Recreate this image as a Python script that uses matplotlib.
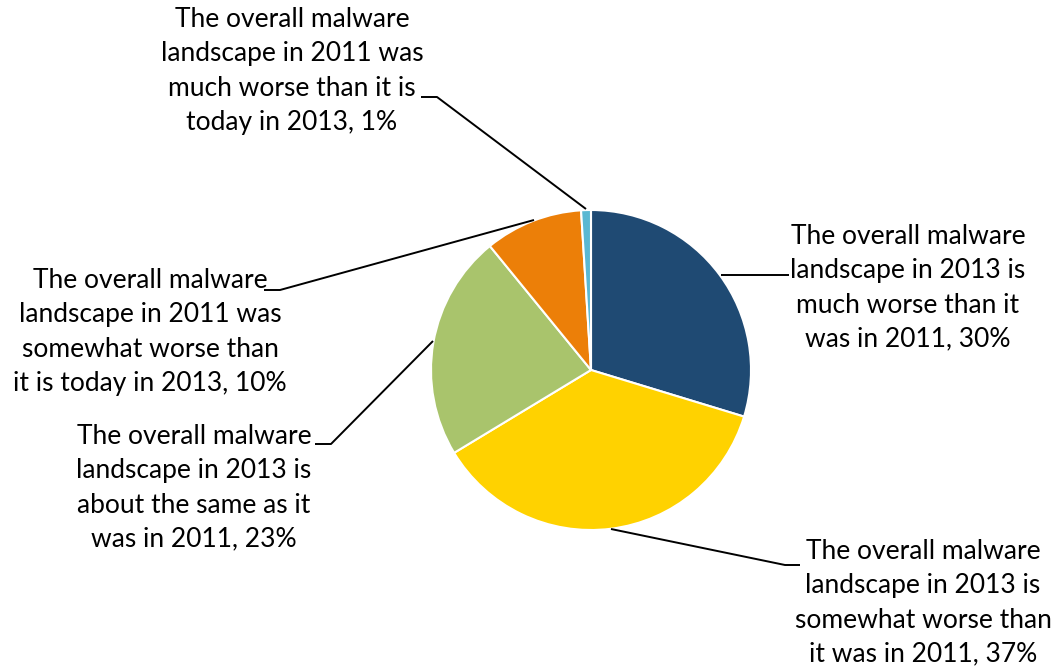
import matplotlib
matplotlib.use("Agg")
import matplotlib.pyplot as plt

categories = [
    "The overall malware\nlandscape in 2013 is\nmuch worse than it\nwas in 2011",
    "The overall malware\nlandscape in 2013 is\nsomewhat worse than\nit was in 2011",
    "The overall malware\nlandscape in 2013 is\nabout the same as it\nwas in 2011",
    "The overall malware\nlandscape in 2011 was\nsomewhat worse than\nit is today in 2013",
    "The overall malware\nlandscape in 2011 was\nmuch worse than it is\ntoday in 2013",
]
values = [30, 37, 23, 10, 1]
colors = ["#1F4A73", "#FFD200", "#A9C46C", "#EC7F08", "#5AB8D2"]

W, H = 1054, 669
fig = plt.figure(figsize=(W / 100, H / 100), dpi=100)
ax = fig.add_axes([0, 0, 1, 1])

cx, cy, r = 591, H - 370, 160
ax.pie(values, colors=colors, startangle=90, counterclock=False,
       center=(cx, cy), radius=r, frame=True,
       wedgeprops=dict(edgecolor="white", linewidth=1.5))
ax.set_xlim(0, W)
ax.set_ylim(0, H)
ax.set_aspect("equal")
ax.axis("off")

# label layout (pixel positions, y measured from top)
label_pos = [(908, 288), (923, 603), (194, 488), (150, 332), (292, 71)]
leaders = [
    [(721, 275), (789, 275)],
    [(611, 529), (785, 565), (800, 565)],
    [(433, 341), (331, 444), (315, 444)],
    [(534, 220), (280, 290), (264, 290)],
    [(586, 209), (437, 97), (421, 97)],
]

font = ["Lato", "DejaVu Sans"]
for cat, v, (lx, ly), pts in zip(categories, values, label_pos, leaders):
    ax.text(lx, H - ly, f"{cat}, {v}%", ha="center", va="center",
            fontsize=19, family=font, linespacing=1.46, color="black")
    xs = [p[0] for p in pts]
    ys = [H - p[1] for p in pts]
    ax.plot(xs, ys, color="black", linewidth=1.4, solid_capstyle="butt")

fig.savefig("out.png", dpi=100, facecolor="white")
